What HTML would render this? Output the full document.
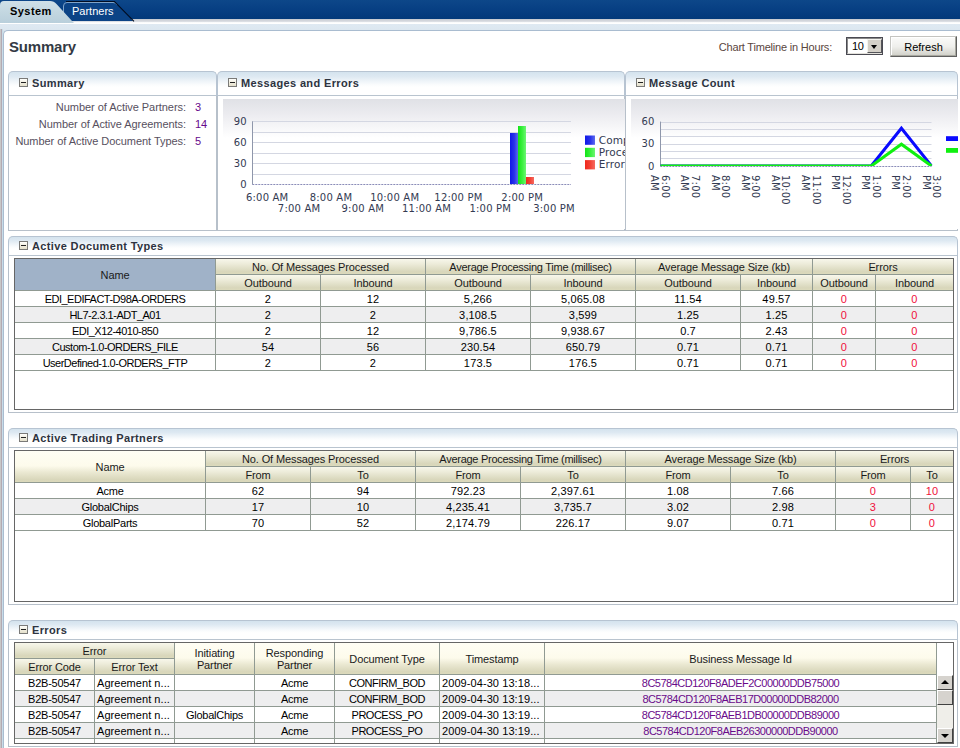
<!DOCTYPE html>
<html lang="en">
<head>
<meta charset="utf-8">
<title>B2B Console - Summary</title>
<style>
html,body{margin:0;padding:0;}
html{overflow:hidden;width:960px;height:748px;}
body{width:960px;height:748px;overflow:hidden;position:relative;background:#fff;
 font-family:"Liberation Sans",sans-serif;font-size:11px;color:#000;}
.abs{position:absolute;}
/* top bar */
#topbar{left:0;top:0;width:960px;height:19px;background:linear-gradient(#0d4789 0,#073f83 50%,#02397a 100%);}
#strip{left:0;top:19px;width:960px;height:18px;background:linear-gradient(#c3c7cf 0,#d2d5db 1.5px,#e0e3e8 3px,#ffffff 3.6px,#ffffff 5px,#dfe9f2 5.4px,#dce7f0 11px,#d3e0ea 12px,#d3e0ea 100%);}
#leftedge{left:0;top:29px;width:3px;height:719px;background:linear-gradient(90deg,#c8c8c8 0,#c8c8c8 1px,#b4aab2 1px,#b4aab2 2px,#c8dce8 2px);}
#mainpanel{left:3px;top:30px;width:957px;height:718px;border:1px solid #a9bcd0;border-right:none;border-bottom:none;border-radius:5px 0 0 0;background:#fff;box-sizing:border-box;}
.tabtxt{top:5px;font-size:11px;white-space:nowrap;}
#title{left:9px;top:38px;font-size:15px;font-weight:bold;color:#333a44;letter-spacing:-0.2px;}
/* sub panels */
.ph{box-sizing:border-box;height:25px;border:1px solid #b7c4d2;border-bottom:1px solid #b9c4cf;border-radius:5px 5px 0 0;
 background:linear-gradient(#d4e3ee 0,#dee9f2 20%,#edf3f8 38%,#fafcfd 55%,#fff 66%);}
.ph b{position:absolute;left:23px;top:5px;font-size:11px;color:#2d3340;white-space:nowrap;letter-spacing:0.36px;}
.ph i{position:absolute;left:10px;top:6px;width:7px;height:7px;border:1px solid #7a7a78;background:linear-gradient(#fffffc,#f1eee0 50%,#e4e0cc);}
.ph i:after{content:"";position:absolute;left:1px;top:3px;width:5px;height:1px;background:#222;}
.pc{box-sizing:border-box;border:1px solid #b7c0ca;border-top:none;background:#fff;}
.lbl{color:#57505e;white-space:nowrap;text-align:right;letter-spacing:-0.05px;}
.val{color:#660a8c;white-space:nowrap;}

/* tables */
.ph2 b{top:3px;} .ph2 i{top:4px;}
.tb{box-sizing:border-box;border:1px solid #6e6e6e;background:#fff;}
.tbo{box-sizing:border-box;border:1px solid #666;}
.c.h.nar{letter-spacing:-0.27px;}
.c{position:absolute;box-sizing:content-box;text-align:center;white-space:nowrap;overflow:hidden;
 box-shadow:1px 0 0 #909a92,0 1px 0 #909a92,1px 1px 0 #909a92;letter-spacing:-0.25px;}
.c.h{background:linear-gradient(#f8f7eb 0,#edecda 32%,#d8d6ba 86%,#dcdabc 100%);color:#1a1a1a;letter-spacing:-0.12px;}
.c.h.tall{background:linear-gradient(#fffef4 0,#fdfbec 48%,#ebe9d3 68%,#d8d6ba 93%,#dcdabc 100%);}
.c.num{letter-spacing:0.15px;}
.c.ts{letter-spacing:0.08px;}
.c.et{letter-spacing:0.05px;}
.c span{position:relative;top:1px;}
.c.h.sel{background:#a0b2c8;}
.c.d{background:#fff;}
.c.d.alt{background:#eeeeef;}
.c.red{color:#f0103a;}
.c.pur{color:#6a0a8a;}
.c.left{text-align:left;text-indent:2px;}
.c.up{letter-spacing:-0.5px;}
.sbb{width:16px;height:15px;box-sizing:border-box;background:#d6d3ce;border:1px solid;border-color:#fff #404040 #404040 #fff;}
.sbb span{position:absolute;left:3px;width:0;height:0;border:4px solid transparent;}
</style>
</head>
<body>
<div id="topbar" class="abs"></div>
<div id="strip" class="abs"></div>
<div id="leftedge" class="abs"></div>
<div id="mainpanel" class="abs"></div>

<svg class="abs" style="left:0;top:0" width="160" height="24" viewBox="0 0 160 24">
 <defs><linearGradient id="tg" x1="0" y1="0" x2="0" y2="1"><stop offset="0" stop-color="#cfe0e8"/><stop offset="0.5" stop-color="#c3d7e1"/><stop offset="1" stop-color="#b9cfdb"/></linearGradient></defs>
 <path d="M63.5 21 L63.5 6 Q63.5 2.5 67 2.5 L113 2.5 Q115.5 2.5 117 4.5 L133 21 Z" fill="#0b4386"/>
 <path d="M63.5 21 L63.5 6 Q63.5 2.5 67 2.5 L113 2.5 Q115.5 2.5 117 4.5" fill="none" stroke="#7fa3c8" stroke-width="1"/>
 <path d="M66 1.5 L114.5 1.5 L134 21.3" fill="none" stroke="#010d22" stroke-width="1.1"/>
 <path d="M0 23 L0 5 Q0 1 4 1 L50 1 Q54 1 56.5 4 L72 21 L74 23 Z" fill="url(#tg)"/>
</svg>
<div class="abs tabtxt" style="left:10px;font-weight:bold;color:#000;letter-spacing:0.45px;">System</div>
<div class="abs tabtxt" style="left:72px;color:#fff;">Partners</div>

<div id="title" class="abs">Summary</div>
<div class="abs lbl" style="left:700px;top:41px;width:132px;color:#5a4640;letter-spacing:-0.2px;">Chart Timeline in Hours:</div>
<div class="abs" id="sel" style="left:846px;top:37px;width:37px;height:18px;box-sizing:border-box;border:1px solid #4a4a52;background:#fff;">
  <span class="abs" style="left:0;top:0;width:35px;height:16px;box-sizing:border-box;border:1px solid;border-color:#8a8a8a #e4e2dc #e4e2dc #8a8a8a;"></span>
  <span class="abs" style="left:5px;top:2px;letter-spacing:-0.3px;">10</span>
  <span class="abs" style="left:20px;top:1px;width:15px;height:14px;background:#d4d0c8;border:1px solid;border-color:#f4f4f0 #55555a #55555a #f4f4f0;box-sizing:border-box;"></span>
  <span class="abs" style="left:24px;top:7px;width:0;height:0;border:3.5px solid transparent;border-top:4px solid #000;border-bottom:none;"></span>
</div>
<div class="abs" id="btn" style="left:890px;top:36px;width:67px;height:21px;box-sizing:border-box;border:1px solid;border-color:#c4c4c0 #5e5e5e #5e5e5e #c4c4c0;background:linear-gradient(#fbfbfa,#efefec 50%,#dcdcd6 80%,#cfcfc8);text-align:center;line-height:20px;box-shadow:inset -1px -1px 0 #a8a8a0,inset 1px 1px 0 #fff;">Refresh</div>

<!-- Summary panel -->
<div class="abs ph" style="left:8px;top:71px;width:209px;"><i></i><b>Summary</b></div>
<div class="abs pc" style="left:8px;top:96px;width:209px;height:135px;"></div>
<div class="abs lbl" style="left:10px;top:101px;width:176px;">Number of Active Partners:</div><div class="abs val" style="left:195px;top:101px;">3</div>
<div class="abs lbl" style="left:10px;top:118px;width:176px;">Number of Active Agreements:</div><div class="abs val" style="left:195px;top:118px;">14</div>
<div class="abs lbl" style="left:10px;top:135px;width:176px;">Number of Active Document Types:</div><div class="abs val" style="left:195px;top:135px;">5</div>

<!-- Messages and Errors panel -->
<div class="abs ph" style="left:217px;top:71px;width:408px;"><i></i><b>Messages and Errors</b></div>
<div class="abs pc" style="left:217px;top:96px;width:408px;height:135px;"></div>

<!-- Message Count panel -->
<div class="abs ph" style="left:625px;top:71px;width:333px;"><i></i><b>Message Count</b></div>
<div class="abs pc" style="left:625px;top:96px;width:333px;height:135px;"></div>

<!--CHARTS-->
<svg class="abs" style="left:223px;top:99px" width="402" height="130" viewBox="0 0 402 130" font-family="'DejaVu Sans','Liberation Sans',sans-serif" font-size="10" fill="#333a52" letter-spacing="0.2">
<defs><linearGradient id="cbg" x1="0" y1="0" x2="0" y2="1"><stop offset="0" stop-color="#e0e1e6"/><stop offset="0.12" stop-color="#ececf0"/><stop offset="0.26" stop-color="#fbfbfc"/><stop offset="0.3" stop-color="#fff"/></linearGradient>
<linearGradient id="gb" x1="0" y1="0" x2="1" y2="0"><stop offset="0" stop-color="#1018e8"/><stop offset="0.55" stop-color="#2a35ea"/><stop offset="1" stop-color="#5b6af0"/></linearGradient>
<linearGradient id="gg" x1="0" y1="0" x2="1" y2="0"><stop offset="0" stop-color="#12e416"/><stop offset="0.55" stop-color="#3cf040"/><stop offset="1" stop-color="#6df673"/></linearGradient>
<linearGradient id="gr" x1="0" y1="0" x2="1" y2="0"><stop offset="0" stop-color="#f0281c"/><stop offset="0.55" stop-color="#f24438"/><stop offset="1" stop-color="#f66a60"/></linearGradient></defs>
<rect x="0" y="0" width="402" height="130" fill="url(#cbg)"/>
<line x1="29.3" y1="22.5" x2="348.0" y2="22.5" stroke="#d4d7e2" stroke-width="1"/>
<line x1="29.3" y1="33.5" x2="348.0" y2="33.5" stroke="#d4d7e2" stroke-width="1"/>
<line x1="29.3" y1="43.5" x2="348.0" y2="43.5" stroke="#d4d7e2" stroke-width="1"/>
<line x1="29.3" y1="54.5" x2="348.0" y2="54.5" stroke="#d4d7e2" stroke-width="1"/>
<line x1="29.3" y1="64.5" x2="348.0" y2="64.5" stroke="#d4d7e2" stroke-width="1"/>
<line x1="29.3" y1="75.5" x2="348.0" y2="75.5" stroke="#d4d7e2" stroke-width="1"/>
<rect x="287" y="34" width="8" height="51" fill="url(#gb)"/>
<rect x="295" y="27" width="8" height="58" fill="url(#gg)"/>
<rect x="303" y="78" width="8" height="7" fill="url(#gr)"/>
<line x1="29.3" y1="85.5" x2="348.0" y2="85.5" stroke="#8a8cb8" stroke-width="1" stroke-dasharray="2 1"/>
<line x1="29.5" y1="22.3" x2="29.5" y2="85.5" stroke="#8f97ab" stroke-width="1"/>
<text x="23.8" y="26.0" text-anchor="end">90</text>
<text x="23.8" y="47.3" text-anchor="end">60</text>
<text x="23.8" y="68.1" text-anchor="end">30</text>
<text x="23.8" y="88.7" text-anchor="end">0</text>
<text x="44.2" y="101.6" text-anchor="middle">6:00 AM</text>
<text x="76.1" y="113.0" text-anchor="middle">7:00 AM</text>
<text x="108.0" y="101.6" text-anchor="middle">8:00 AM</text>
<text x="139.8" y="113.0" text-anchor="middle">9:00 AM</text>
<text x="171.7" y="101.6" text-anchor="middle">10:00 AM</text>
<text x="203.6" y="113.0" text-anchor="middle">11:00 AM</text>
<text x="235.5" y="101.6" text-anchor="middle">12:00 PM</text>
<text x="267.3" y="113.0" text-anchor="middle">1:00 PM</text>
<text x="299.2" y="101.6" text-anchor="middle">2:00 PM</text>
<text x="331.1" y="113.0" text-anchor="middle">3:00 PM</text>
<rect x="362" y="36.5" width="10" height="9.3" fill="url(#gb)"/>
<text x="375.7" y="44.8" font-size="10.5" letter-spacing="0.15">Completed</text>
<rect x="362" y="48.8" width="10" height="9.3" fill="url(#gg)"/>
<text x="375.7" y="57.1" font-size="10.5" letter-spacing="0.15">Processing</text>
<rect x="362" y="61.1" width="10" height="9.3" fill="url(#gr)"/>
<text x="375.7" y="69.4" font-size="10.5" letter-spacing="0.15">Errors</text>
</svg>
<svg class="abs" style="left:631px;top:99px" width="327" height="130" viewBox="0 0 327 130" font-family="'DejaVu Sans','Liberation Sans',sans-serif" font-size="10" fill="#333a52" letter-spacing="0.2">
<rect x="0" y="0" width="327" height="130" fill="url(#cbg)"/>
<line x1="29.3" y1="23.5" x2="300.5" y2="23.5" stroke="#d4d7e2" stroke-width="1"/>
<line x1="29.3" y1="30.5" x2="300.5" y2="30.5" stroke="#d4d7e2" stroke-width="1"/>
<line x1="29.3" y1="37.5" x2="300.5" y2="37.5" stroke="#d4d7e2" stroke-width="1"/>
<line x1="29.3" y1="45.5" x2="300.5" y2="45.5" stroke="#d4d7e2" stroke-width="1"/>
<line x1="29.3" y1="52.5" x2="300.5" y2="52.5" stroke="#d4d7e2" stroke-width="1"/>
<line x1="29.3" y1="59.5" x2="300.5" y2="59.5" stroke="#d4d7e2" stroke-width="1"/>
<line x1="29.3" y1="67.5" x2="300.5" y2="67.5" stroke="#8a8cb8" stroke-width="1" stroke-dasharray="2 1"/>
<line x1="29.5" y1="22.6" x2="29.5" y2="67.3" stroke="#8f97ab" stroke-width="1"/>
<clipPath id="lc"><rect x="29.3" y="0" width="272.2" height="66.9"/></clipPath>
<polyline clip-path="url(#lc)" points="29.3,67.0 59.4,67.0 89.6,67.0 119.7,67.0 149.8,67.0 180.0,67.0 210.1,67.0 240.2,67.0 270.4,29.2 300.5,67.0" fill="none" stroke="#0a0aff" stroke-width="3" stroke-linejoin="miter"/>
<polyline clip-path="url(#lc)" points="29.3,67.0 59.4,67.0 89.6,67.0 119.7,67.0 149.8,67.0 180.0,67.0 210.1,67.0 240.2,67.0 270.4,45.2 300.5,67.0" fill="none" stroke="#10f010" stroke-width="3" stroke-linejoin="miter"/>
<text x="23.5" y="26.3" text-anchor="end">60</text>
<text x="23.5" y="48.2" text-anchor="end">30</text>
<text x="23.5" y="71.2" text-anchor="end">0</text>
<text transform="translate(30.9,76) rotate(90)">6:00</text>
<text transform="translate(20.3,76) rotate(90)">AM</text>
<text transform="translate(61.0,76) rotate(90)">7:00</text>
<text transform="translate(50.4,76) rotate(90)">AM</text>
<text transform="translate(91.2,76) rotate(90)">8:00</text>
<text transform="translate(80.6,76) rotate(90)">AM</text>
<text transform="translate(121.3,76) rotate(90)">9:00</text>
<text transform="translate(110.7,76) rotate(90)">AM</text>
<text transform="translate(151.4,76) rotate(90)">10:00</text>
<text transform="translate(140.8,76) rotate(90)">AM</text>
<text transform="translate(181.6,76) rotate(90)">11:00</text>
<text transform="translate(171.0,76) rotate(90)">AM</text>
<text transform="translate(211.7,76) rotate(90)">12:00</text>
<text transform="translate(201.1,76) rotate(90)">PM</text>
<text transform="translate(241.8,76) rotate(90)">1:00</text>
<text transform="translate(231.2,76) rotate(90)">PM</text>
<text transform="translate(272.0,76) rotate(90)">2:00</text>
<text transform="translate(261.4,76) rotate(90)">PM</text>
<text transform="translate(302.1,76) rotate(90)">3:00</text>
<text transform="translate(291.5,76) rotate(90)">PM</text>
<rect x="315" y="37.2" width="12" height="4.8" fill="#0a0aff"/>
<rect x="315" y="49.0" width="12" height="4.8" fill="#10f010"/>
</svg>
<!--/CHARTS-->

<!--TABLES-->
<div class="abs ph ph2" style="left:8px;top:236px;width:950px;height:20px;"><i></i><b>Active Document Types</b></div><div class="abs pc" style="left:8px;top:256px;width:950px;height:157px;"></div>
<div class="abs ph ph2" style="left:8px;top:428px;width:950px;height:20px;"><i></i><b>Active Trading Partners</b></div><div class="abs pc" style="left:8px;top:448px;width:950px;height:157px;"></div>
<div class="abs ph ph2" style="left:8px;top:620px;width:950px;height:20px;"><i></i><b>Errors</b></div><div class="abs pc" style="left:8px;top:640px;width:950px;height:107px;"></div>
<div class="abs tb" style="left:14px;top:258px;width:940px;height:152px;"></div>
<div class="c h sel tall" style="left:15px;top:259px;width:200px;height:31px;line-height:31px;"><span>Name</span></div>
<div class="c h " style="left:216px;top:259px;width:209px;height:15px;line-height:15px;"><span>No. Of Messages Processed</span></div>
<div class="c h nar" style="left:426px;top:259px;width:209px;height:15px;line-height:15px;"><span>Average Processing Time (millisec)</span></div>
<div class="c h " style="left:636px;top:259px;width:176px;height:15px;line-height:15px;"><span>Average Message Size (kb)</span></div>
<div class="c h " style="left:813px;top:259px;width:140px;height:15px;line-height:15px;"><span>Errors</span></div>
<div class="c h " style="left:216px;top:275px;width:104px;height:15px;line-height:15px;"><span>Outbound</span></div>
<div class="c h " style="left:321px;top:275px;width:104px;height:15px;line-height:15px;"><span>Inbound</span></div>
<div class="c h " style="left:426px;top:275px;width:104px;height:15px;line-height:15px;"><span>Outbound</span></div>
<div class="c h " style="left:531px;top:275px;width:104px;height:15px;line-height:15px;"><span>Inbound</span></div>
<div class="c h " style="left:636px;top:275px;width:104px;height:15px;line-height:15px;"><span>Outbound</span></div>
<div class="c h " style="left:741px;top:275px;width:71px;height:15px;line-height:15px;"><span>Inbound</span></div>
<div class="c h " style="left:813px;top:275px;width:62px;height:15px;line-height:15px;"><span>Outbound</span></div>
<div class="c h " style="left:876px;top:275px;width:77px;height:15px;line-height:15px;"><span>Inbound</span></div>
<div class="c d  up" style="left:15px;top:291px;width:200px;height:15px;line-height:15px;"><span>EDI_EDIFACT-D98A-ORDERS</span></div>
<div class="c d  num" style="left:216px;top:291px;width:104px;height:15px;line-height:15px;"><span>2</span></div>
<div class="c d  num" style="left:321px;top:291px;width:104px;height:15px;line-height:15px;"><span>12</span></div>
<div class="c d  num" style="left:426px;top:291px;width:104px;height:15px;line-height:15px;"><span>5,266</span></div>
<div class="c d  num" style="left:531px;top:291px;width:104px;height:15px;line-height:15px;"><span>5,065.08</span></div>
<div class="c d  num" style="left:636px;top:291px;width:104px;height:15px;line-height:15px;"><span>11.54</span></div>
<div class="c d  num" style="left:741px;top:291px;width:71px;height:15px;line-height:15px;"><span>49.57</span></div>
<div class="c d red num" style="left:813px;top:291px;width:62px;height:15px;line-height:15px;"><span>0</span></div>
<div class="c d red num" style="left:876px;top:291px;width:77px;height:15px;line-height:15px;"><span>0</span></div>
<div class="c d alt  up" style="left:15px;top:307px;width:200px;height:15px;line-height:15px;"><span>HL7-2.3.1-ADT_A01</span></div>
<div class="c d alt  num" style="left:216px;top:307px;width:104px;height:15px;line-height:15px;"><span>2</span></div>
<div class="c d alt  num" style="left:321px;top:307px;width:104px;height:15px;line-height:15px;"><span>2</span></div>
<div class="c d alt  num" style="left:426px;top:307px;width:104px;height:15px;line-height:15px;"><span>3,108.5</span></div>
<div class="c d alt  num" style="left:531px;top:307px;width:104px;height:15px;line-height:15px;"><span>3,599</span></div>
<div class="c d alt  num" style="left:636px;top:307px;width:104px;height:15px;line-height:15px;"><span>1.25</span></div>
<div class="c d alt  num" style="left:741px;top:307px;width:71px;height:15px;line-height:15px;"><span>1.25</span></div>
<div class="c d alt red num" style="left:813px;top:307px;width:62px;height:15px;line-height:15px;"><span>0</span></div>
<div class="c d alt red num" style="left:876px;top:307px;width:77px;height:15px;line-height:15px;"><span>0</span></div>
<div class="c d  up" style="left:15px;top:323px;width:200px;height:15px;line-height:15px;"><span>EDI_X12-4010-850</span></div>
<div class="c d  num" style="left:216px;top:323px;width:104px;height:15px;line-height:15px;"><span>2</span></div>
<div class="c d  num" style="left:321px;top:323px;width:104px;height:15px;line-height:15px;"><span>12</span></div>
<div class="c d  num" style="left:426px;top:323px;width:104px;height:15px;line-height:15px;"><span>9,786.5</span></div>
<div class="c d  num" style="left:531px;top:323px;width:104px;height:15px;line-height:15px;"><span>9,938.67</span></div>
<div class="c d  num" style="left:636px;top:323px;width:104px;height:15px;line-height:15px;"><span>0.7</span></div>
<div class="c d  num" style="left:741px;top:323px;width:71px;height:15px;line-height:15px;"><span>2.43</span></div>
<div class="c d red num" style="left:813px;top:323px;width:62px;height:15px;line-height:15px;"><span>0</span></div>
<div class="c d red num" style="left:876px;top:323px;width:77px;height:15px;line-height:15px;"><span>0</span></div>
<div class="c d alt  up" style="left:15px;top:339px;width:200px;height:15px;line-height:15px;"><span>Custom-1.0-ORDERS_FILE</span></div>
<div class="c d alt  num" style="left:216px;top:339px;width:104px;height:15px;line-height:15px;"><span>54</span></div>
<div class="c d alt  num" style="left:321px;top:339px;width:104px;height:15px;line-height:15px;"><span>56</span></div>
<div class="c d alt  num" style="left:426px;top:339px;width:104px;height:15px;line-height:15px;"><span>230.54</span></div>
<div class="c d alt  num" style="left:531px;top:339px;width:104px;height:15px;line-height:15px;"><span>650.79</span></div>
<div class="c d alt  num" style="left:636px;top:339px;width:104px;height:15px;line-height:15px;"><span>0.71</span></div>
<div class="c d alt  num" style="left:741px;top:339px;width:71px;height:15px;line-height:15px;"><span>0.71</span></div>
<div class="c d alt red num" style="left:813px;top:339px;width:62px;height:15px;line-height:15px;"><span>0</span></div>
<div class="c d alt red num" style="left:876px;top:339px;width:77px;height:15px;line-height:15px;"><span>0</span></div>
<div class="c d  up" style="left:15px;top:355px;width:200px;height:15px;line-height:15px;"><span>UserDefined-1.0-ORDERS_FTP</span></div>
<div class="c d  num" style="left:216px;top:355px;width:104px;height:15px;line-height:15px;"><span>2</span></div>
<div class="c d  num" style="left:321px;top:355px;width:104px;height:15px;line-height:15px;"><span>2</span></div>
<div class="c d  num" style="left:426px;top:355px;width:104px;height:15px;line-height:15px;"><span>173.5</span></div>
<div class="c d  num" style="left:531px;top:355px;width:104px;height:15px;line-height:15px;"><span>176.5</span></div>
<div class="c d  num" style="left:636px;top:355px;width:104px;height:15px;line-height:15px;"><span>0.71</span></div>
<div class="c d  num" style="left:741px;top:355px;width:71px;height:15px;line-height:15px;"><span>0.71</span></div>
<div class="c d red num" style="left:813px;top:355px;width:62px;height:15px;line-height:15px;"><span>0</span></div>
<div class="c d red num" style="left:876px;top:355px;width:77px;height:15px;line-height:15px;"><span>0</span></div>
<div class="abs tbo" style="left:14px;top:258px;width:940px;height:152px;"></div>
<div class="abs tb" style="left:14px;top:450px;width:940px;height:152px;"></div>
<div class="c h  tall" style="left:15px;top:451px;width:190px;height:31px;line-height:31px;"><span>Name</span></div>
<div class="c h " style="left:206px;top:451px;width:209px;height:15px;line-height:15px;"><span>No. Of Messages Processed</span></div>
<div class="c h nar" style="left:416px;top:451px;width:209px;height:15px;line-height:15px;"><span>Average Processing Time (millisec)</span></div>
<div class="c h " style="left:626px;top:451px;width:209px;height:15px;line-height:15px;"><span>Average Message Size (kb)</span></div>
<div class="c h " style="left:836px;top:451px;width:117px;height:15px;line-height:15px;"><span>Errors</span></div>
<div class="c h " style="left:206px;top:467px;width:104px;height:15px;line-height:15px;"><span>From</span></div>
<div class="c h " style="left:311px;top:467px;width:104px;height:15px;line-height:15px;"><span>To</span></div>
<div class="c h " style="left:416px;top:467px;width:104px;height:15px;line-height:15px;"><span>From</span></div>
<div class="c h " style="left:521px;top:467px;width:104px;height:15px;line-height:15px;"><span>To</span></div>
<div class="c h " style="left:626px;top:467px;width:104px;height:15px;line-height:15px;"><span>From</span></div>
<div class="c h " style="left:731px;top:467px;width:104px;height:15px;line-height:15px;"><span>To</span></div>
<div class="c h " style="left:836px;top:467px;width:74px;height:15px;line-height:15px;"><span>From</span></div>
<div class="c h " style="left:911px;top:467px;width:42px;height:15px;line-height:15px;"><span>To</span></div>
<div class="c d " style="left:15px;top:483px;width:190px;height:15px;line-height:15px;"><span>Acme</span></div>
<div class="c d  num" style="left:206px;top:483px;width:104px;height:15px;line-height:15px;"><span>62</span></div>
<div class="c d  num" style="left:311px;top:483px;width:104px;height:15px;line-height:15px;"><span>94</span></div>
<div class="c d  num" style="left:416px;top:483px;width:104px;height:15px;line-height:15px;"><span>792.23</span></div>
<div class="c d  num" style="left:521px;top:483px;width:104px;height:15px;line-height:15px;"><span>2,397.61</span></div>
<div class="c d  num" style="left:626px;top:483px;width:104px;height:15px;line-height:15px;"><span>1.08</span></div>
<div class="c d  num" style="left:731px;top:483px;width:104px;height:15px;line-height:15px;"><span>7.66</span></div>
<div class="c d red num" style="left:836px;top:483px;width:74px;height:15px;line-height:15px;"><span>0</span></div>
<div class="c d red num" style="left:911px;top:483px;width:42px;height:15px;line-height:15px;"><span>10</span></div>
<div class="c d alt " style="left:15px;top:499px;width:190px;height:15px;line-height:15px;"><span>GlobalChips</span></div>
<div class="c d alt  num" style="left:206px;top:499px;width:104px;height:15px;line-height:15px;"><span>17</span></div>
<div class="c d alt  num" style="left:311px;top:499px;width:104px;height:15px;line-height:15px;"><span>10</span></div>
<div class="c d alt  num" style="left:416px;top:499px;width:104px;height:15px;line-height:15px;"><span>4,235.41</span></div>
<div class="c d alt  num" style="left:521px;top:499px;width:104px;height:15px;line-height:15px;"><span>3,735.7</span></div>
<div class="c d alt  num" style="left:626px;top:499px;width:104px;height:15px;line-height:15px;"><span>3.02</span></div>
<div class="c d alt  num" style="left:731px;top:499px;width:104px;height:15px;line-height:15px;"><span>2.98</span></div>
<div class="c d alt red num" style="left:836px;top:499px;width:74px;height:15px;line-height:15px;"><span>3</span></div>
<div class="c d alt red num" style="left:911px;top:499px;width:42px;height:15px;line-height:15px;"><span>0</span></div>
<div class="c d " style="left:15px;top:515px;width:190px;height:15px;line-height:15px;"><span>GlobalParts</span></div>
<div class="c d  num" style="left:206px;top:515px;width:104px;height:15px;line-height:15px;"><span>70</span></div>
<div class="c d  num" style="left:311px;top:515px;width:104px;height:15px;line-height:15px;"><span>52</span></div>
<div class="c d  num" style="left:416px;top:515px;width:104px;height:15px;line-height:15px;"><span>2,174.79</span></div>
<div class="c d  num" style="left:521px;top:515px;width:104px;height:15px;line-height:15px;"><span>226.17</span></div>
<div class="c d  num" style="left:626px;top:515px;width:104px;height:15px;line-height:15px;"><span>9.07</span></div>
<div class="c d  num" style="left:731px;top:515px;width:104px;height:15px;line-height:15px;"><span>0.71</span></div>
<div class="c d red num" style="left:836px;top:515px;width:74px;height:15px;line-height:15px;"><span>0</span></div>
<div class="c d red num" style="left:911px;top:515px;width:42px;height:15px;line-height:15px;"><span>0</span></div>
<div class="abs tbo" style="left:14px;top:450px;width:940px;height:152px;"></div>
<div class="abs tb" style="left:14px;top:642px;width:940px;height:102px;"></div>
<div class="c h " style="left:15px;top:643px;width:159px;height:15px;line-height:15px;"><span>Error</span></div>
<div class="c h " style="left:15px;top:659px;width:79px;height:15px;line-height:15px;"><span>Error Code</span></div>
<div class="c h " style="left:95px;top:659px;width:79px;height:15px;line-height:15px;"><span>Error Text</span></div>
<div class="c h  tall" style="left:175px;top:643px;width:79px;padding-top:3px;height:28px;line-height:12px;"><span>Initiating<br>Partner</span></div>
<div class="c h  tall" style="left:255px;top:643px;width:79px;padding-top:3px;height:28px;line-height:12px;"><span>Responding<br>Partner</span></div>
<div class="c h  tall" style="left:335px;top:643px;width:104px;height:31px;line-height:31px;"><span>Document Type</span></div>
<div class="c h  tall" style="left:440px;top:643px;width:104px;height:31px;line-height:31px;"><span>Timestamp</span></div>
<div class="c h  tall" style="left:545px;top:643px;width:391px;height:31px;line-height:31px;"><span>Business Message Id</span></div>
<div class="c d " style="left:15px;top:675px;width:79px;height:15px;line-height:15px;"><span>B2B-50547</span></div>
<div class="c d left et" style="left:95px;top:675px;width:79px;height:15px;line-height:15px;"><span>Agreement n...</span></div>
<div class="c d " style="left:175px;top:675px;width:79px;height:15px;line-height:15px;"></div>
<div class="c d " style="left:255px;top:675px;width:79px;height:15px;line-height:15px;"><span>Acme</span></div>
<div class="c d up" style="left:335px;top:675px;width:104px;height:15px;line-height:15px;"><span>CONFIRM_BOD</span></div>
<div class="c d left ts" style="left:440px;top:675px;width:104px;height:15px;line-height:15px;"><span>2009-04-30 13:18...</span></div>
<div class="c d pur up" style="left:545px;top:675px;width:391px;height:15px;line-height:15px;"><span>8C5784CD120F8ADEF2C00000DDB75000</span></div>
<div class="c d alt " style="left:15px;top:691px;width:79px;height:15px;line-height:15px;"><span>B2B-50547</span></div>
<div class="c d alt left et" style="left:95px;top:691px;width:79px;height:15px;line-height:15px;"><span>Agreement n...</span></div>
<div class="c d alt " style="left:175px;top:691px;width:79px;height:15px;line-height:15px;"></div>
<div class="c d alt " style="left:255px;top:691px;width:79px;height:15px;line-height:15px;"><span>Acme</span></div>
<div class="c d alt up" style="left:335px;top:691px;width:104px;height:15px;line-height:15px;"><span>CONFIRM_BOD</span></div>
<div class="c d alt left ts" style="left:440px;top:691px;width:104px;height:15px;line-height:15px;"><span>2009-04-30 13:19...</span></div>
<div class="c d alt pur up" style="left:545px;top:691px;width:391px;height:15px;line-height:15px;"><span>8C5784CD120F8AEB17D00000DDB82000</span></div>
<div class="c d " style="left:15px;top:707px;width:79px;height:15px;line-height:15px;"><span>B2B-50547</span></div>
<div class="c d left et" style="left:95px;top:707px;width:79px;height:15px;line-height:15px;"><span>Agreement n...</span></div>
<div class="c d " style="left:175px;top:707px;width:79px;height:15px;line-height:15px;"><span>GlobalChips</span></div>
<div class="c d " style="left:255px;top:707px;width:79px;height:15px;line-height:15px;"><span>Acme</span></div>
<div class="c d up" style="left:335px;top:707px;width:104px;height:15px;line-height:15px;"><span>PROCESS_PO</span></div>
<div class="c d left ts" style="left:440px;top:707px;width:104px;height:15px;line-height:15px;"><span>2009-04-30 13:19...</span></div>
<div class="c d pur up" style="left:545px;top:707px;width:391px;height:15px;line-height:15px;"><span>8C5784CD120F8AEB1DB00000DDB89000</span></div>
<div class="c d alt " style="left:15px;top:723px;width:79px;height:15px;line-height:15px;"><span>B2B-50547</span></div>
<div class="c d alt left et" style="left:95px;top:723px;width:79px;height:15px;line-height:15px;"><span>Agreement n...</span></div>
<div class="c d alt " style="left:175px;top:723px;width:79px;height:15px;line-height:15px;"></div>
<div class="c d alt " style="left:255px;top:723px;width:79px;height:15px;line-height:15px;"><span>Acme</span></div>
<div class="c d alt up" style="left:335px;top:723px;width:104px;height:15px;line-height:15px;"><span>PROCESS_PO</span></div>
<div class="c d alt left ts" style="left:440px;top:723px;width:104px;height:15px;line-height:15px;"><span>2009-04-30 13:19...</span></div>
<div class="c d alt pur up" style="left:545px;top:723px;width:391px;height:15px;line-height:15px;"><span>8C5784CD120F8AEB26300000DDB90000</span></div>
<div class="c d " style="left:15px;top:739px;width:79px;height:4px;line-height:4px;"></div>
<div class="c d left et" style="left:95px;top:739px;width:79px;height:4px;line-height:4px;"></div>
<div class="c d " style="left:175px;top:739px;width:79px;height:4px;line-height:4px;"></div>
<div class="c d " style="left:255px;top:739px;width:79px;height:4px;line-height:4px;"></div>
<div class="c d up" style="left:335px;top:739px;width:104px;height:4px;line-height:4px;"></div>
<div class="c d left ts" style="left:440px;top:739px;width:104px;height:4px;line-height:4px;"></div>
<div class="c d pur up" style="left:545px;top:739px;width:391px;height:4px;line-height:4px;"></div>
<div class="abs tbo" style="left:14px;top:642px;width:940px;height:102px;"></div>
<div class="abs" style="left:937px;top:643px;width:16px;height:100px;background:#fff;"></div>
<div class="abs" style="left:937px;top:675px;width:16px;height:68px;background:#efeee9;"></div>
<div class="abs sbb" style="left:937px;top:675px;"><span style="border-bottom:4px solid #000;border-top:none;top:4px;"></span></div>
<div class="abs sbb" style="left:937px;top:690px;height:15px;"></div>
<div class="abs sbb" style="left:937px;top:728px;"><span style="border-top:4px solid #000;border-bottom:none;top:5px;"></span></div>
<!--/TABLES-->
</body>
</html>
